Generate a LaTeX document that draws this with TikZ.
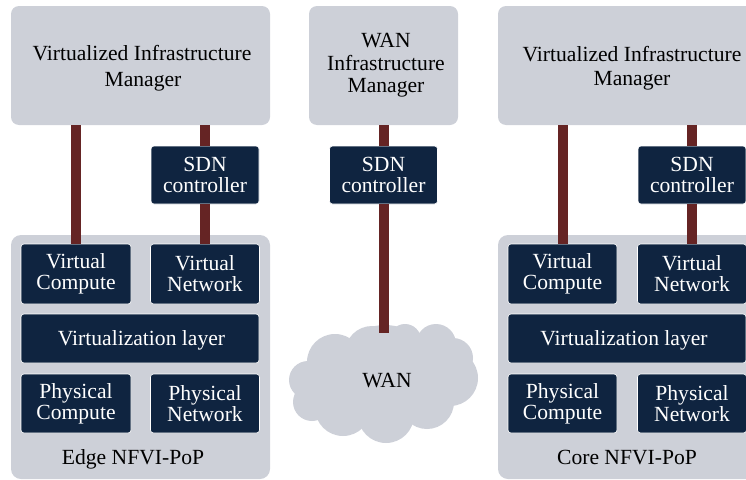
\documentclass[tikz,border=0pt]{standalone}
\usepackage{fontspec}
\setmainfont{Liberation Serif}
\tikzset{
  panel/.style = {fill=panelgrey,rounded corners=8pt,text=black,align=center,inner sep=0pt},
  block/.style = {fill=blocknavy,draw=white,line width=0.6pt,rounded corners=3pt,text=white,align=center,inner sep=0pt},
  wire/.style  = {draw=wirered,line width=10pt}
}
\definecolor{panelgrey}{HTML}{CDD0D8}
\definecolor{blocknavy}{HTML}{0F2440}
\definecolor{wirered}{HTML}{652424}
\begin{document}
\begin{tikzpicture}[x=1pt,y=-1pt,font=\fontsize{21.6}{21}\selectfont]
   \useasboundingbox[clip] (0,0) rectangle (746,479);
   % managers
   \node[panel,text depth=0pt,minimum width=259pt,minimum height=119pt] (vimedge) at (140.5,65.5) {\hspace*{3pt}Virtualized Infrastructure\\[5pt]\hspace*{5pt}Manager};
   \node[panel,minimum width=149pt,minimum height=119pt] (vimwan) at (383.5,65.5) {\hspace*{5pt}WAN\\[1.5pt]\hspace*{5pt}Infrastructure\\[1.5pt]\hspace*{5pt}Manager};
   \node[panel,text depth=0pt,minimum width=268pt,minimum height=119pt] (vimcore) at (632,65.5) {Virtualized Infrastructure\\[3pt]Manager};
   % sites
   \node[panel,rounded corners=10pt,minimum width=259pt,minimum height=244pt] (popedge) at (140.5,357) {};
   \node[panel,rounded corners=10pt,minimum width=268pt,minimum height=244pt] (popcore) at (632,357) {};
   \node (edgename) at (133,459) {Edge NFVI-PoP};
   \node (corename) at (627,458) {Core NFVI-PoP};
   % cloud
   \foreach \cx/\cy/\cr in {308/380/19,312/402/19,343/408/28,386/415/28,427/402/27,450/378/28,
                            453/358/20,436/344/20,405/340/16,372/353/27,335/362/28,385/375/50}
      \fill[panelgrey] (\cx,\cy) circle (\cr pt);
   \node (wan) at (387,381) {WAN};
   \coordinate (wantop) at (383.5,333);
   % controllers
   \node[block,minimum width=108pt,minimum height=58pt] (sdnedge) at (205,175) {SDN\\controller};
   \node[block,minimum width=108pt,minimum height=58pt] (sdnwan) at (383.5,175) {SDN\\controller};
   \node[block,minimum width=108pt,minimum height=58pt] (sdncore) at (692,175) {SDN\\controller};
   % edge site
   \node[block,minimum width=110pt,minimum height=60pt] (vcedge) at (76,274) {Virtual\\Compute};
   \node[block,minimum width=109pt,minimum height=60pt] (vnedge) at (205,274) {Virtual\\Network};
   \node[block,text depth=0pt,minimum width=238pt,minimum height=49pt] (layeredge) at (140,338.5) {\hspace*{3pt}Virtualization layer};
   \node[block,minimum width=110pt,minimum height=59pt] (pcedge) at (76,403.5) {Physical\\Compute};
   \node[block,minimum width=109pt,minimum height=59pt] (pnedge) at (205,403.5) {Physical\\Network};
   % core site
   \node[block,minimum width=109pt,minimum height=60pt] (vccore) at (562.5,274) {Virtual\\Compute};
   \node[block,minimum width=109pt,minimum height=60pt] (vncore) at (692,274) {Virtual\\Network};
   \node[block,text depth=0pt,minimum width=238pt,minimum height=49pt] (layercore) at (627,338.5) {\hspace*{-6pt}Virtualization layer};
   \node[block,minimum width=109pt,minimum height=59pt] (pccore) at (562.5,403.5) {Physical\\Compute};
   \node[block,minimum width=109pt,minimum height=59pt] (pncore) at (692,403.5) {Physical\\Network};
   % links
   \draw[wire] (vcedge.north) -- (vcedge.north |- vimedge.south);
   \draw[wire] (sdnedge.north) -- (sdnedge.north |- vimedge.south);
   \draw[wire] (vnedge.north) -- (sdnedge.south);
   \draw[wire] (sdnwan.north) -- (sdnwan.north |- vimwan.south);
   \draw[wire] (sdnwan.south) -- (wantop);
   \draw[wire] (vccore.north) -- (vccore.north |- vimcore.south);
   \draw[wire] (sdncore.north) -- (sdncore.north |- vimcore.south);
   \draw[wire] (vncore.north) -- (sdncore.south);
\end{tikzpicture}
\end{document}
